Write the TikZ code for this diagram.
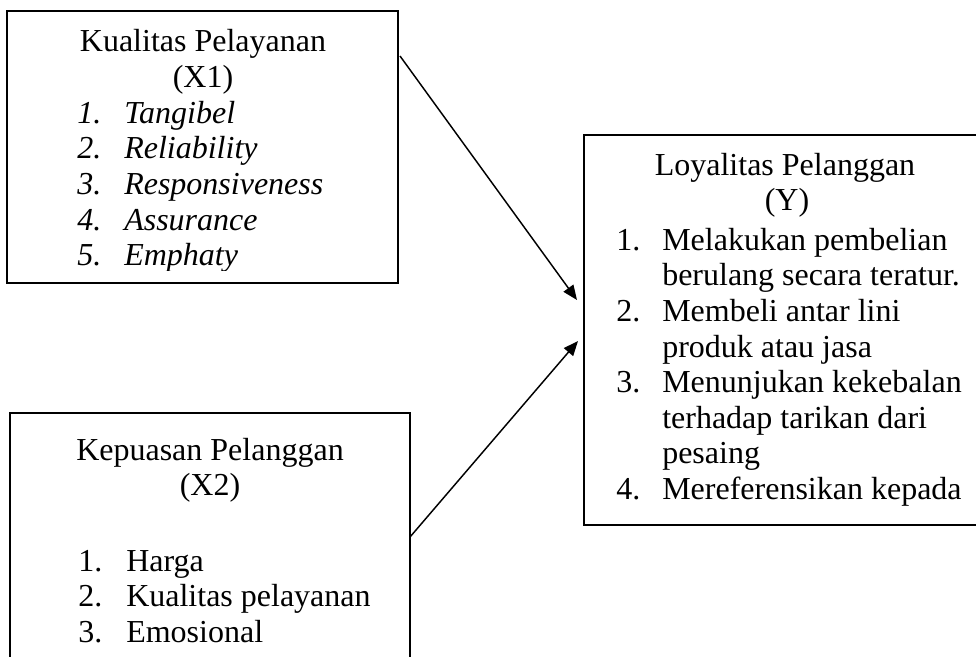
\documentclass[tikz,border=0pt]{standalone}
\usepackage{fontspec}
\setmainfont{Liberation Serif}
\usetikzlibrary{arrows.meta,fit}

\tikzset{
  box/.style={draw, line width=1.5pt, inner sep=0pt},
  judul/.style={anchor=base, inner sep=0pt, font=\fontsize{24}{26.7}\selectfont},
  butir/.style={anchor=base west, inner sep=0pt, font=\fontsize{24}{26.7}\selectfont},
  miring/.style={butir, font=\fontsize{24}{26.7}\selectfont\itshape},
  panah/.style={line width=1.1pt, -{Triangle[length=11pt, width=9pt]}}
}

\begin{document}
\begin{tikzpicture}[x=0.75pt, y=-0.75pt]
		%%%%% START %%%%%
		\useasboundingbox (0,0) rectangle (976,657);
		\clip (0,0) rectangle (976,657);
		
		% kotak X1
		\node[box, fit={(7,11) (398,283)}] (kx1) {};
		\begin{scope}
			\clip (7,11) rectangle (398,270);
			\node[judul] (kx1t) at (203, 51.5) {Kualitas Pelayanan};
			\node[judul] (kx1v) at (203, 87.6) {(X1)};
			\node[miring] (kx1n1) at (77, 123.2) {1.};
			\node[miring] (kx1s1) at (124, 123.2) {Tangibel};
			\node[miring] (kx1n2) at (77, 158.8) {2.};
			\node[miring] (kx1s2) at (124, 158.8) {Reliability};
			\node[miring] (kx1n3) at (77, 194.4) {3.};
			\node[miring] (kx1s3) at (124, 194.4) {Responsiveness};
			\node[miring] (kx1n4) at (77, 230) {4.};
			\node[miring] (kx1s4) at (124, 230) {Assurance};
			\node[miring] (kx1n5) at (77, 265.6) {5.};
			\node[miring] (kx1s5) at (124, 265.6) {Emphaty};
		\end{scope}
		
		% kotak X2
		\node[box, fit={(10,413) (410,700)}] (kx2) {};
		\node[judul] (kx2t) at (210, 460) {Kepuasan Pelanggan};
		\node[judul] (kx2v) at (210, 495.6) {(X2)};
		\node[butir] (kx2n1) at (78, 571) {1.};
		\node[butir] (kx2s1) at (126, 571) {Harga};
		\node[butir] (kx2n2) at (78, 606.6) {2.};
		\node[butir] (kx2s2) at (126, 606.6) {Kualitas pelayanan};
		\node[butir] (kx2n3) at (78, 642.2) {3.};
		\node[butir] (kx2s3) at (126, 642.2) {Emosional};
		
		% kotak Y
		\node[box, fit={(584,135) (1000,525)}] (ky) {};
		\node[judul] (kyt) at (785, 175) {Loyalitas Pelanggan};
		\node[judul] (kyv) at (787, 210.6) {(Y)};
		\node[butir] (kyn1) at (616, 250.2) {1.};
		\node[butir] (kys1) at (662, 250.2) {Melakukan pembelian};
		\node[butir] (kys1b) at (662, 285.8) {berulang secara teratur.};
		\node[butir] (kyn2) at (616, 321.4) {2.};
		\node[butir] (kys2) at (662, 321.4) {Membeli antar lini};
		\node[butir] (kys2b) at (662, 357) {produk atau jasa};
		\node[butir] (kyn3) at (616, 392.6) {3.};
		\node[butir] (kys3) at (662, 392.6) {Menunjukan kekebalan};
		\node[butir] (kys3b) at (662, 428.2) {terhadap tarikan dari};
		\node[butir] (kys3c) at (662, 463.8) {pesaing};
		\node[butir] (kyn4) at (616, 499.4) {4.};
		\node[butir] (kys4) at (662, 499.4) {Mereferensikan kepada};
		
		% panah
		\coordinate (a1) at (400, 56);
		\coordinate (b1) at (577, 300);
		\coordinate (a2) at (410, 537);
		\coordinate (b2) at (578, 341);
		\draw[panah] (a1) -- (b1);
		\draw[panah] (a2) -- (b2);
		
		%%%%% END %%%%%
	\end{tikzpicture}
\end{document}
